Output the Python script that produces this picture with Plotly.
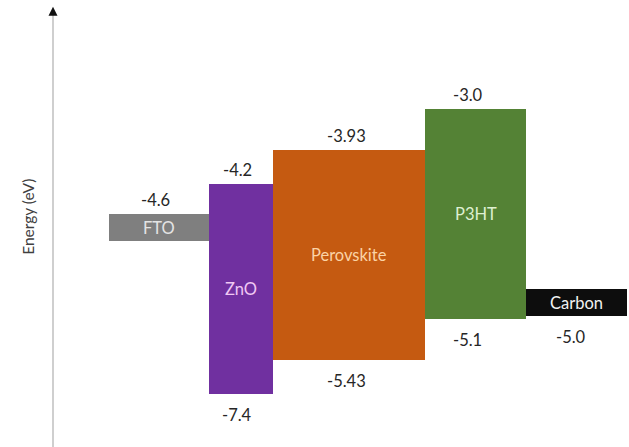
import plotly.graph_objects as go

# ---- data ----
layers = ["FTO", "ZnO", "Perovskite", "P3HT", "Carbon"]
# energy values printed on the diagram (eV)
upper_values = ["-4.6", "-4.2", "-3.93", "-3.0", None]
lower_values = [None, "-7.4", "-5.43", "-5.1", "-5.0"]
# schematic levels at which the boxes are drawn (diagram is not to scale)
drawn_top = [-4.62, -4.16, -3.63, -3.00, -5.78]
drawn_bottom = [-5.04, -7.40, -6.87, -6.24, -6.20]

# ---- geometry / style ----
x_left = [109, 209, 273, 425, 526]
x_width = [100, 64, 152, 101, 101]
fills = ["#7f7f7f", "#7030a0", "#c55a11", "#548235", "#0d0d0d"]
name_colors = ["#e4e4e4", "#f0c8f4", "#fbd3a6", "#dff0d2", "#f2f2f2"]
font_family = "Lato, 'Open Sans', sans-serif"

fig = go.Figure()
centers = [l + w / 2 for l, w in zip(x_left, x_width)]
for i, name in enumerate(layers):
    fig.add_trace(go.Bar(
        x=[centers[i]], y=[drawn_top[i] - drawn_bottom[i]], base=[drawn_bottom[i]],
        width=[x_width[i]], marker=dict(color=fills[i], line=dict(width=0)),
        showlegend=False, hoverinfo="skip", name=name))
    fig.add_annotation(x=centers[i], y=(drawn_top[i] + drawn_bottom[i]) / 2,
                       text=name, showarrow=False,
                       font=dict(family=font_family, size=16.5, color=name_colors[i]))

top_shift = [-4, -4, -3, -8, 0]
bot_shift = [0, -4, -3, -8, -6]
for i in range(len(layers)):
    if upper_values[i]:
        fig.add_annotation(x=centers[i] + top_shift[i], y=drawn_top[i], text=upper_values[i],
                           showarrow=False, yanchor="middle", yshift=14,
                           font=dict(family=font_family, size=16.5, color="#262626"))
    if lower_values[i]:
        fig.add_annotation(x=centers[i] + bot_shift[i], y=drawn_bottom[i], text=lower_values[i],
                           showarrow=False, yanchor="middle", yshift=-21,
                           font=dict(family=font_family, size=16.5, color="#262626"))

# energy axis: gray line with arrow head
fig.add_shape(type="line", xref="x", yref="paper", x0=53, x1=53, y0=0, y1=0.965,
              line=dict(color="#cfcfcf", width=2))
fig.add_annotation(xref="x", yref="paper", x=53, y=0.985, ax=0, ay=10,
                   axref="pixel", ayref="pixel", showarrow=True, arrowhead=2,
                   arrowsize=1.2, arrowwidth=1.5, arrowcolor="#111111", text="")
fig.add_annotation(xref="x", yref="paper", x=28, y=0.515, text="Energy (eV)",
                   textangle=-90, showarrow=False,
                   font=dict(family=font_family, size=15.5, color="#404040"))

fig.update_layout(
    width=629, height=447, margin=dict(l=0, r=0, t=0, b=0),
    paper_bgcolor="white", plot_bgcolor="white", bargap=0,
    xaxis=dict(range=[0, 629], visible=False, fixedrange=True),
    yaxis=dict(range=[-8.219, -1.317], visible=False, fixedrange=True),
)
fig.write_html("out.html", config={"displayModeBar": False},
               post_script="document.body.style.margin='0';document.body.style.overflow='hidden';")
